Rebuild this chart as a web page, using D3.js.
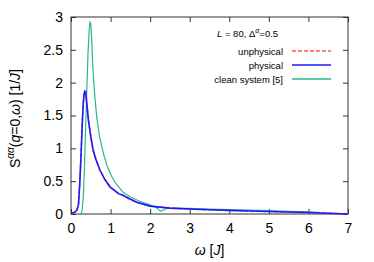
<!DOCTYPE html>
<html>
<head>
<meta charset="utf-8">
<script src="https://cdn.jsdelivr.net/npm/d3@7"></script>
<style>
  body { margin: 0; background: #fff; }
  text { font-family: "Liberation Sans", Arial, sans-serif; }
</style>
</head>
<body>
<div id="chart"></div>
<script>
// omega [J] and S(q=0,omega) [1/J]
const physOmega = [0, 0.05, 0.1, 0.15, 0.19, 0.22, 0.25, 0.27, 0.29, 0.31, 0.33, 0.35, 0.37, 0.4, 0.44, 0.5, 0.56, 0.63, 0.73, 0.85, 0.99, 1.1, 1.2, 1.3, 1.45, 1.66, 2, 2.5, 3, 3.5, 4, 4.5, 5, 5.5, 6, 6.5, 7];
const physS     = [0.02, 0.02, 0.03, 0.06, 0.15, 0.45, 0.85, 1.15, 1.45, 1.68, 1.82, 1.87, 1.86, 1.68, 1.43, 1.18, 0.97, 0.83, 0.67, 0.53, 0.41, 0.36, 0.31, 0.29, 0.24, 0.18, 0.12, 0.09, 0.075, 0.065, 0.055, 0.045, 0.038, 0.03, 0.022, 0.012, 0];
const unphysOmega = physOmega;
const unphysS     = physS;
const cleanOmega = [0.25, 0.28, 0.31, 0.34, 0.37, 0.4, 0.43, 0.46, 0.48, 0.5, 0.52, 0.55, 0.6, 0.65, 0.72, 0.82, 0.92, 1.03, 1.15, 1.32, 1.5, 1.75, 2, 2.15, 2.27, 2.4, 2.6, 3, 3.5, 4, 4.5, 5, 5.5, 6, 6.3];
const cleanS     = [0, 0.05, 0.25, 0.7, 1.3, 1.9, 2.45, 2.8, 2.92, 2.9, 2.7, 2.25, 1.8, 1.48, 1.18, 0.92, 0.72, 0.57, 0.45, 0.33, 0.26, 0.19, 0.14, 0.1, 0.04, 0.08, 0.09, 0.085, 0.075, 0.068, 0.06, 0.05, 0.042, 0.032, 0.02];
const xTicks = [0, 1, 2, 3, 4, 5, 6, 7];
const yTicks = [0, 0.5, 1, 1.5, 2, 2.5, 3];

const W = 374, H = 262;
const margin = { top: 17, right: 26, bottom: 48, left: 71 },
    width = W - margin.left - margin.right,
    height = H - margin.top - margin.bottom;

const svg = d3.select('#chart').append('svg')
    .attr('width', W)
    .attr('height', H);

const g = svg.append('g')
    .attr('transform', `translate(${margin.left},${margin.top})`);

const x = d3.scaleLinear().domain([0, 7]).range([0, width]);
const y = d3.scaleLinear().domain([0, 3]).range([height, 0]);

// Axes, ticks pointing inward, mirrored
const fmt = d => String(d);
g.append('g').attr('transform', `translate(0,${height})`)
    .call(d3.axisBottom(x).tickValues(xTicks).tickFormat(fmt).tickSizeInner(-5).tickSizeOuter(0).tickPadding(9));
g.append('g')
    .call(d3.axisTop(x).tickValues(xTicks).tickFormat('').tickSizeInner(-5).tickSizeOuter(0));
g.append('g')
    .call(d3.axisLeft(y).tickValues(yTicks).tickFormat(fmt).tickSizeInner(-5).tickSizeOuter(0).tickPadding(8));
g.append('g').attr('transform', `translate(${width},0)`)
    .call(d3.axisRight(y).tickValues(yTicks).tickFormat('').tickSizeInner(-5).tickSizeOuter(0));

g.selectAll('.tick text').attr('font-size', 14).attr('fill', '#000').style('font-family', '"Liberation Sans", Arial, sans-serif');
g.selectAll('.domain').remove();
g.selectAll('.tick line').attr('stroke', '#333');

g.append('rect')
    .attr('width', width).attr('height', height)
    .attr('fill', 'none').attr('stroke', '#333').attr('stroke-width', 1);

// Curves
const line = (xs, ys) => d3.line().x((d, i) => x(xs[i])).y((d, i) => y(ys[i]))(xs);

g.append('path').attr('d', line(unphysOmega, unphysS))
    .attr('fill', 'none').attr('stroke', '#ff5555').attr('stroke-width', 1.5).attr('stroke-dasharray', '4,2');
g.append('path').attr('d', line(cleanOmega, cleanS))
    .attr('fill', 'none').attr('stroke', '#2ab88a').attr('stroke-width', 1.2);
g.append('path').attr('d', line(physOmega, physS))
    .attr('fill', 'none').attr('stroke', '#1a1aff').attr('stroke-width', 1.6);

// Legend
const leg = svg.append('g').attr('font-size', 9.5);
const title = leg.append('text').attr('x', 217).attr('y', 37);
title.append('tspan').attr('font-style', 'italic').text('L');
title.append('tspan').text(' = 80, \u0394');
title.append('tspan').attr('dy', -4).attr('font-size', 7).attr('font-style', 'italic').text('\u03b1');
title.append('tspan').attr('dy', 4).text('=0.5');

const entries = [
  { label: 'unphysical', color: '#ff5555', dash: '4,2' },
  { label: 'physical', color: '#1a1aff', dash: null },
  { label: 'clean system [5]', color: '#2ab88a', dash: null }
];
entries.forEach((e, i) => {
  const yy = 51 + i * 14;
  leg.append('text').attr('x', 283).attr('y', yy + 3.5).attr('text-anchor', 'end').text(e.label);
  leg.append('line').attr('x1', 292).attr('x2', 331).attr('y1', yy).attr('y2', yy)
      .attr('stroke', e.color).attr('stroke-width', 1.5).attr('stroke-dasharray', e.dash);
});

// Axis labels
const xl = svg.append('text').attr('x', margin.left + width / 2).attr('y', 255)
    .attr('text-anchor', 'middle').attr('font-size', 14);
xl.append('tspan').attr('font-style', 'italic').text('\u03c9');
xl.append('tspan').text(' [');
xl.append('tspan').attr('font-style', 'italic').text('J');
xl.append('tspan').text(']');

const yl = svg.append('text')
    .attr('transform', `translate(20,${margin.top + height / 2 + 3}) rotate(-90)`)
    .attr('text-anchor', 'middle').attr('font-size', 14);
yl.append('tspan').text('S');
yl.append('tspan').attr('dy', -6).attr('font-size', 10).attr('font-style', 'italic').text('\u03b1\u03b1');
yl.append('tspan').attr('dy', 6).text('(');
yl.append('tspan').attr('font-style', 'italic').text('q');
yl.append('tspan').text('=0,');
yl.append('tspan').attr('font-style', 'italic').text('\u03c9');
yl.append('tspan').text(') [1/');
yl.append('tspan').attr('font-style', 'italic').text('J');
yl.append('tspan').text(']');
</script>
</body>
</html>
